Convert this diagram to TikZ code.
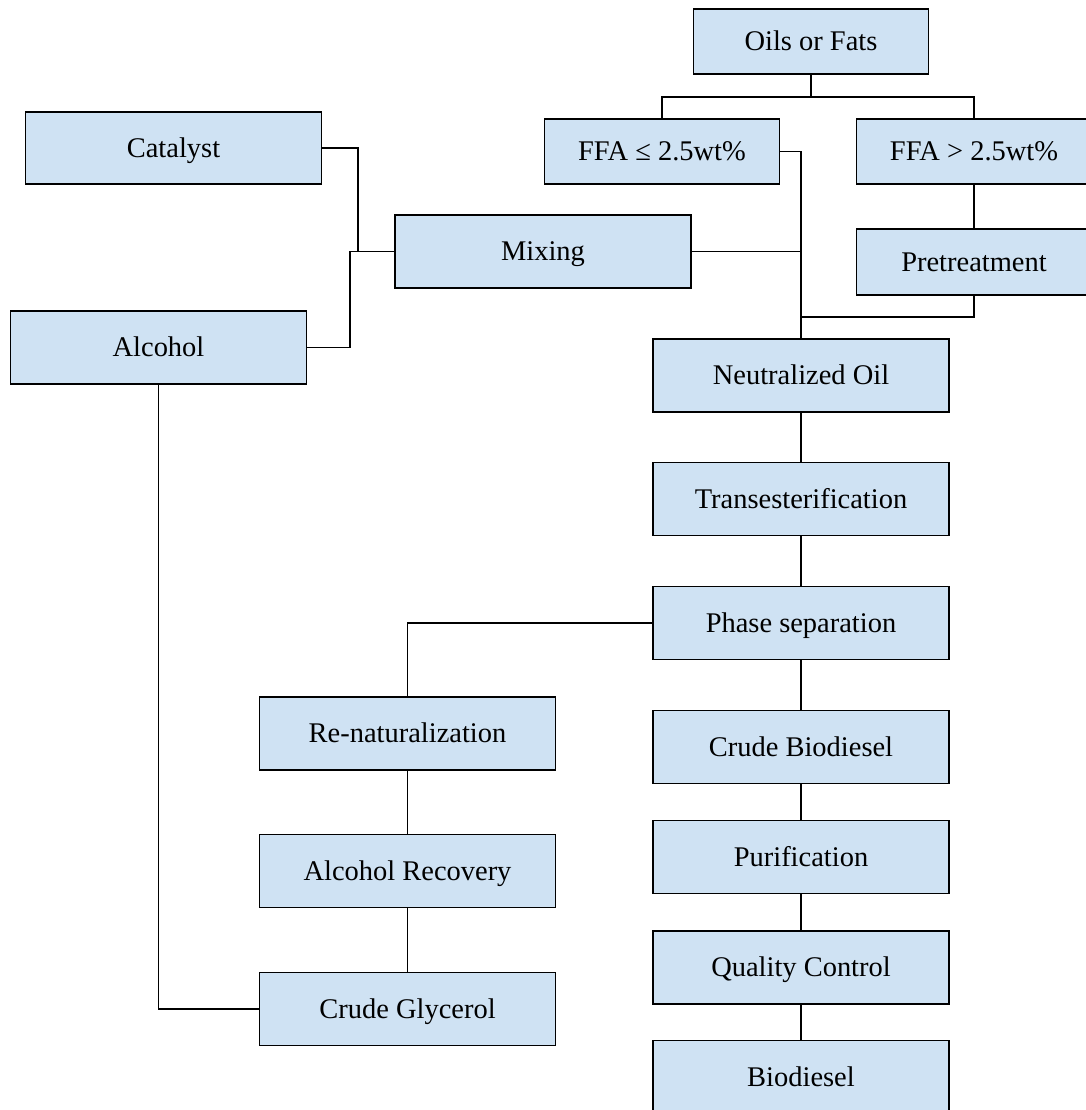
\documentclass[tikz,border=0pt]{standalone}
\usepackage{fontspec}
\setmainfont{Liberation Serif}
\usepackage{tikz}
\definecolor{boxblue}{RGB}{207, 226, 243}

\begin{document}
\begin{tikzpicture}[
    procbox/.style={draw=black, fill=boxblue, line width=1.0pt, minimum width=5.92cm,
                    minimum height=1.46cm, inner sep=0pt, text height=10.7pt, text depth=0pt,
                    font=\fontsize{16.2}{19}\selectfont},
    smallbox/.style={procbox, minimum width=4.70cm, minimum height=1.31cm},
    link/.style={line width=0.8pt}
  ]

  \useasboundingbox (0, 0) rectangle (21.72, -22.2);

  % oil branch
  \node[smallbox] (oils)     at (16.22, -0.83) {Oils or Fats};
  \node[smallbox] (ffalow)   at (13.24, -3.03) {FFA ≤ 2.5wt\%};
  \node[smallbox] (ffahigh)  at (19.48, -3.03) {FFA > 2.5wt\%};
  \node[smallbox, minimum height=1.33cm] (pretreat) at (19.48, -5.24) {Pretreatment};

  % alcohol branch
  \node[procbox, minimum height=1.44cm] (catalyst) at (3.47, -2.96) {Catalyst};
  \node[procbox] (mixing)   at (10.86, -5.03) {Mixing};
  \node[procbox] (alcohol)  at (3.17, -6.95)  {Alcohol};

  % main line
  \node[procbox] (neutral)  at (16.02, -7.51)  {Neutralized Oil};
  \node[procbox] (trans)    at (16.02, -9.98)  {Transesterification};
  \node[procbox] (phase)    at (16.02, -12.46) {Phase separation};
  \node[procbox] (crudebio) at (16.02, -14.94) {Crude Biodiesel};
  \node[procbox] (purif)    at (16.02, -17.14) {Purification};
  \node[procbox] (quality)  at (16.02, -19.35) {Quality Control};
  \node[procbox] (biodiesel) at (16.02, -21.54) {Biodiesel};

  % glycerol line
  \node[procbox] (renat)    at (8.15, -14.67) {Re-naturalization};
  \node[procbox] (alcrec)   at (8.15, -17.42) {Alcohol Recovery};
  \node[procbox] (glycerol) at (8.15, -20.18) {Crude Glycerol};

  \coordinate (split)   at (16.22, -1.94);
  \coordinate (merge)   at (16.02, -6.34);
  \coordinate (catjoin) at (7.16, -5.02);
  \coordinate (alcjoin) at (7.00, -5.03);

  \draw[link] (oils) -- (split);
  \draw[link] (ffalow.north) |- (split) -| (ffahigh.north);
  \draw[link] (ffahigh) -- (pretreat);
  \draw[link] (pretreat.south) |- (merge);
  \draw[link] (ffalow.east) -| (neutral.north);
  \draw[link] (mixing.east) -- (mixing.east -| neutral.north);

  \draw[link] (catalyst.east) -| (catjoin);
  \draw[link] (alcohol.east) -| (alcjoin) -- (mixing.west);

  \draw[link] (neutral) -- (trans);
  \draw[link] (trans) -- (phase);
  \draw[link] (phase) -- (crudebio);
  \draw[link] (crudebio) -- (purif);
  \draw[link] (purif) -- (quality);
  \draw[link] (quality) -- (biodiesel);

  \draw[link] (phase.west) -| (renat.north);
  \draw[link] (renat) -- (alcrec);
  \draw[link] (alcrec) -- (glycerol);
  \draw[link] (alcohol.south) |- (glycerol.west);

\end{tikzpicture}
\end{document}
